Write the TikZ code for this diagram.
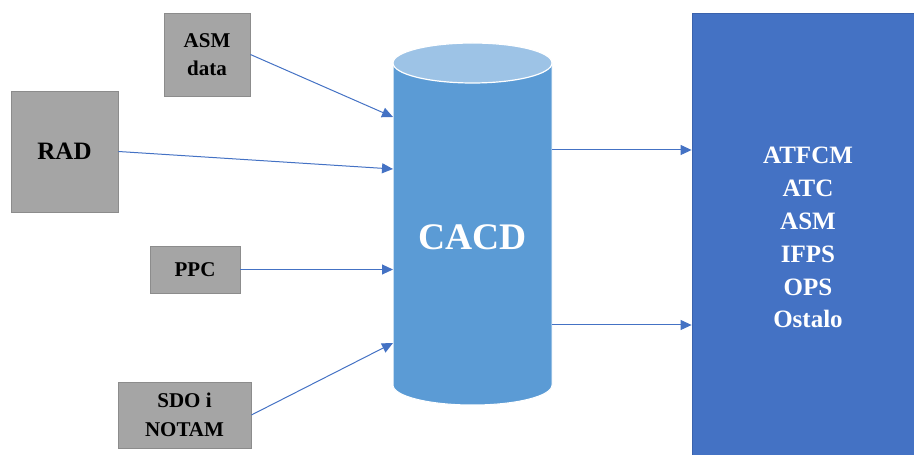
\documentclass[tikz,border=0pt]{standalone}
\usepackage{fontspec}
\setmainfont{Liberation Serif}
\usetikzlibrary{arrows.meta}
\definecolor{boxgray}{HTML}{A5A5A5}
\definecolor{boxedge}{HTML}{8C8C8C}
\definecolor{cylbody}{HTML}{5B9BD5}
\definecolor{cyltop}{HTML}{9DC3E6}
\definecolor{sysblue}{HTML}{4472C4}
\definecolor{sysedge}{HTML}{3A62AC}
\definecolor{arrowblue}{HTML}{4472C4}
\begin{document}
\begin{tikzpicture}[x=1pt,y=1pt,
  srcbox/.style={draw=boxedge, line width=0.8pt, fill=boxgray, inner sep=0pt, align=center, font=\bfseries},
  arr/.style={draw=arrowblue, line width=1pt, -{Triangle[length=11pt,width=10pt]}}]
\useasboundingbox (0,0) rectangle (914,455);
% sources
\node[srcbox, minimum width=86, minimum height=83, font=\fontsize{21}{28}\selectfont\bfseries] (asm) at (207,400.5) {ASM\\data};
\node[srcbox, minimum width=107, minimum height=121, font=\fontsize{25}{30}\selectfont\bfseries] (rad) at (64.5,303.5) {RAD};
\node[srcbox, minimum width=90, minimum height=47, font=\fontsize{21}{28}\selectfont\bfseries] (ppc) at (195,185.5) {PPC};
\node[srcbox, minimum width=133, minimum height=66, font=\fontsize{21}{29}\selectfont\bfseries] (sdo) at (184.5,40) {SDO i\\NOTAM};
% cylinder
\path[fill=cylbody, draw=white, line width=1pt] (393,392) -- (393,70) arc[start angle=180, end angle=360, x radius=79.5, y radius=20] -- (552,392) -- cycle;
\path[fill=cyltop, draw=white, line width=1.2pt] (472.5,392) ellipse[x radius=79.5, y radius=20];
\node[minimum width=159, minimum height=322, inner sep=0pt] (cacd) at (472.5,231) {};
\node[anchor=base, text=white, font=\fontsize{37.5}{40}\selectfont\bfseries] (cacdlbl) at (472.5,205) {CACD};
% system box
\node[draw=sysedge, line width=0.8pt, fill=sysblue, minimum width=232, minimum height=449, inner sep=0pt] (sys) at (808,217.5) {};
\node[anchor=base, align=center, text=white, font=\fontsize{25}{32.8}\selectfont\bfseries] (systxt) at (808,127) {ATFCM\\ATC\\ASM\\IFPS\\OPS\\Ostalo};
% inputs
\coordinate (in1) at (393,338);
\coordinate (in2) at (393,286);
\coordinate (in3) at (393,185.5);
\coordinate (in4) at (393,112);
\draw[arr] (asm.east) -- (in1);
\draw[arr] (rad.east) -- (in2);
\draw[arr] (ppc.east) -- (in3);
\draw[arr] (sdo.east) -- (in4);
% outputs
\draw[arr] (cacd.east |- 0,305) -- (sys.west |- 0,305);
\draw[arr] (cacd.east |- 0,130) -- (sys.west |- 0,130);
\end{tikzpicture}
\end{document}
